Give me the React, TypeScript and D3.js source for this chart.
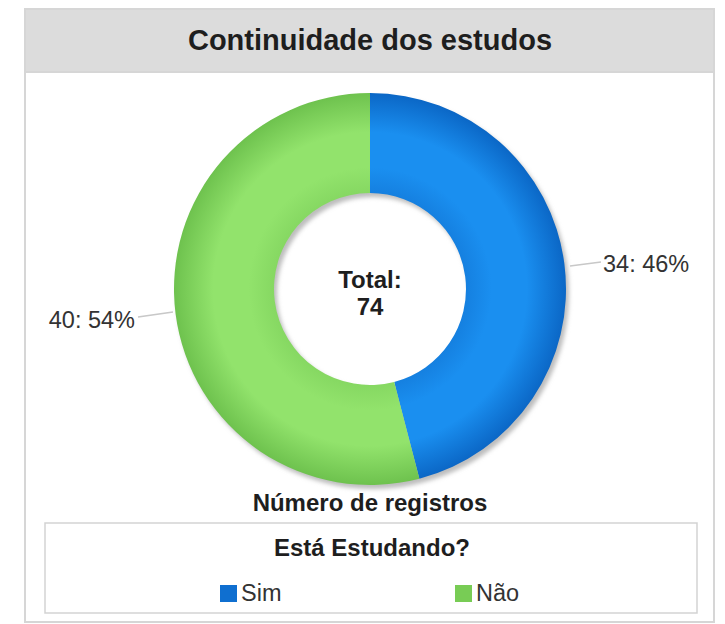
import React from "react";
import * as d3 from "d3";

const categories = ["Sim", "Não"];
const values = [34, 40];
const title = "Continuidade dos estudos";
const measureLabel = "Número de registros";
const legendTitle = "Está Estudando?";
const colorsLight = ["#1a8ff0", "#92e36c"];
const colorsMid = ["#1580e0", "#86d862"];
const colorsDark = ["#0b67c6", "#6ec24e"];
const legendColors = ["#0f6fd0", "#78cc55"];

export default function App() {
  const W = 725, H = 624;
  const cx = 370, cy = 289, rOuter = 196, rInner = 96;
  const total = d3.sum(values);
  const pie = d3.pie<number>().sort(null).value((d) => d);
  const arcs = pie(values);
  const arcGen = d3.arc<d3.PieArcDatum<number>>().innerRadius(rInner).outerRadius(rOuter);
  const ringPath = d3.arc()({ innerRadius: rInner, outerRadius: rOuter, startAngle: 0, endAngle: 2 * Math.PI }) as string;
  const font = "Liberation Sans, Arial, sans-serif";
  const labelPos = [
    { line: [[570, 266], [601, 262]], x: 603, y: 272, anchor: "start" },
    { line: [[173, 312], [138, 317]], x: 135, y: 328, anchor: "end" },
  ];
  return (
    <svg width={W} height={H} style={{ position: "absolute", left: 0, top: 0 }} fontFamily={font}>
      <defs>
        {categories.map((c, i) => (
          <radialGradient key={c} id={`g${i}`} cx={0} cy={0} r={rOuter} gradientUnits="userSpaceOnUse">
            <stop offset="0.49" stopColor={colorsMid[i]} />
            <stop offset="0.62" stopColor={colorsLight[i]} />
            <stop offset="0.8" stopColor={colorsLight[i]} />
            <stop offset="1" stopColor={colorsDark[i]} />
          </radialGradient>
        ))}
        <filter id="blur" x="-20%" y="-20%" width="140%" height="140%">
          <feGaussianBlur stdDeviation="2" />
        </filter>
      </defs>
      <rect x={25} y={9} width={689} height={613} fill="#fff" stroke="#d6d6d6" strokeWidth={2} />
      <rect x={25} y={9} width={689} height={63} fill="#dcdcdc" stroke="#d6d6d6" strokeWidth={2} />
      <text x={370} y={50} textAnchor="middle" fontSize={29} fontWeight="bold" fill="#1e1e1e">{title}</text>
      <g transform={`translate(${cx},${cy})`}>
        <path d={ringPath} fill="#bdbdbd" transform="translate(3,4)" filter="url(#blur)" />
        {arcs.map((a, i) => (
          <path key={categories[i]} d={arcGen(a) as string} fill={`url(#g${i})`} />
        ))}
      </g>
      {arcs.map((a, i) => {
        const p = labelPos[i];
        const pct = Math.round((values[i] / total) * 100);
        return (
          <g key={`l${i}`}>
            <line x1={p.line[0][0]} y1={p.line[0][1]} x2={p.line[1][0]} y2={p.line[1][1]} stroke="#c8c8c8" strokeWidth={1.5} />
            <text x={p.x} y={p.y} textAnchor={p.anchor as any} fontSize={23.5} fill="#333">{`${values[i]}: ${pct}%`}</text>
          </g>
        );
      })}
      <text x={cx} y={288} textAnchor="middle" fontSize={24} fontWeight="bold" fill="#1e1e1e">Total:</text>
      <text x={cx} y={315} textAnchor="middle" fontSize={24} fontWeight="bold" fill="#1e1e1e">{total}</text>
      <text x={370} y={511} textAnchor="middle" fontSize={24} fontWeight="bold" fill="#1e1e1e">{measureLabel}</text>
      <rect x={45} y={523} width={652} height={90} fill="#fff" stroke="#d3d3d3" strokeWidth={1.5} />
      <text x={372} y={556} textAnchor="middle" fontSize={24} fontWeight="bold" fill="#1e1e1e">{legendTitle}</text>
      {categories.map((c, i) => {
        const x = i === 0 ? 220 : 455;
        return (
          <g key={`lg${c}`}>
            <rect x={x} y={585} width={17} height={17} fill={legendColors[i]} />
            <text x={x + 21} y={601} fontSize={23.5} fill="#333">{c}</text>
          </g>
        );
      })}
    </svg>
  );
}
